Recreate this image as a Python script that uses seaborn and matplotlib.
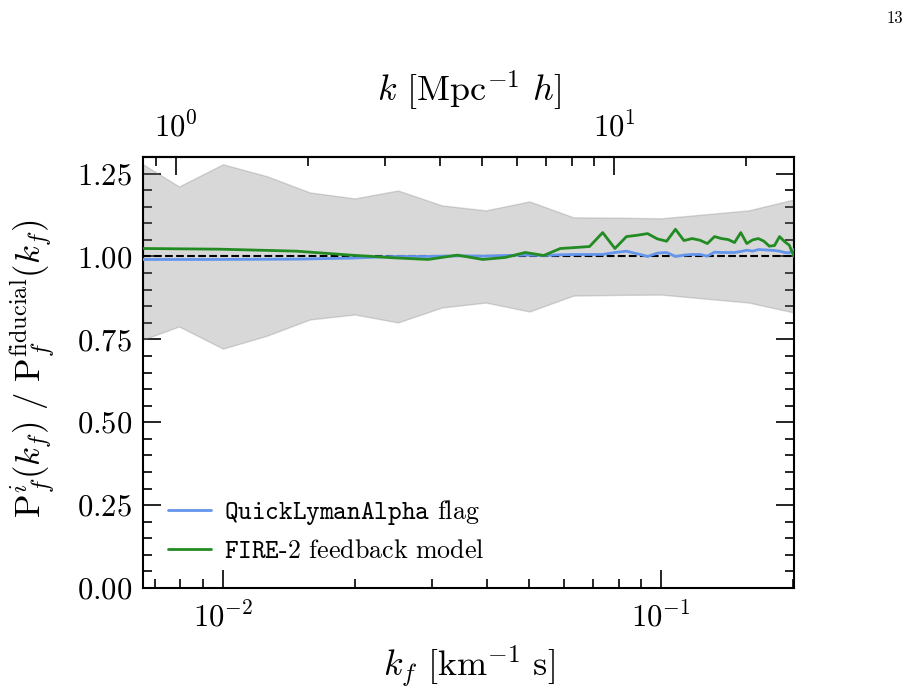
import numpy as np
import pandas as pd
import matplotlib
matplotlib.use("Agg")
import matplotlib.pyplot as plt
import matplotlib.ticker as mticker
import seaborn as sns

# ---------------- data ----------------
kf = [0.00657, 0.0098, 0.0147, 0.0196, 0.0245, 0.0294, 0.0343, 0.0392, 0.0441, 0.0490,
      0.0540, 0.0589, 0.0638, 0.0687, 0.0736, 0.0785, 0.0834, 0.0883, 0.0932, 0.0981,
      0.1030, 0.1079, 0.1128, 0.1178, 0.1227, 0.1276, 0.1325, 0.1374, 0.1423, 0.1472,
      0.1521, 0.1570, 0.1619, 0.1668, 0.1718, 0.1767, 0.1816, 0.1865, 0.1914, 0.1963,
      0.2012]

ratio_qla = [0.991, 0.991, 0.992, 0.995, 1.000, 1.000, 1.002, 1.001, 1.003, 1.004,
             1.003, 1.005, 1.006, 1.006, 1.006, 1.012, 1.016, 1.008, 1.000, 1.010,
             1.012, 1.000, 1.004, 1.006, 1.006, 1.001, 1.013, 1.012, 1.012, 1.012,
             1.015, 1.019, 1.016, 1.021, 1.020, 1.019, 1.018, 1.016, 1.012, 1.011,
             1.021]

ratio_fire = [1.024, 1.022, 1.016, 1.004, 0.996, 0.991, 1.004, 0.991, 0.997, 1.012,
              1.003, 1.024, 1.027, 1.030, 1.072, 1.024, 1.060, 1.064, 1.069, 1.053,
              1.046, 1.082, 1.048, 1.054, 1.049, 1.039, 1.060, 1.054, 1.051, 1.042,
              1.072, 1.039, 1.050, 1.054, 1.046, 1.031, 1.033, 1.060, 1.045, 1.034,
              1.000]

band_kf = [0.00657, 0.00794, 0.0100, 0.0126, 0.0158, 0.0200, 0.0251, 0.0316, 0.0398,
           0.0501, 0.0631, 0.0794, 0.1000, 0.1259, 0.1585, 0.2012]
band_hi = [1.278, 1.211, 1.278, 1.242, 1.193, 1.175, 1.199, 1.154, 1.139,
           1.166, 1.118, 1.117, 1.115, 1.127, 1.139, 1.172]
band_lo = [0.749, 0.789, 0.722, 0.761, 0.810, 0.825, 0.801, 0.846, 0.861,
           0.834, 0.882, 0.884, 0.885, 0.873, 0.861, 0.831]

yticks = [0.00, 0.25, 0.50, 0.75, 1.00, 1.25]
top_major_ticks = [1, 10]
kf_to_k = 128.0  # km^-1 s -> Mpc^-1 h

labels = [r"$\mathtt{QuickLymanAlpha}$ flag", r"$\mathtt{FIRE}$-$\mathtt{2}$ feedback model"]
colors = ["#6495ED", "#228B22"]

# ---------------- style ----------------
sns.set_theme(style="ticks")
plt.rcParams.update({
    "font.family": "serif",
    "font.serif": ["cmr10", "DejaVu Serif"],
    "mathtext.fontset": "cm",
    "axes.formatter.use_mathtext": True,
    "axes.unicode_minus": True,
    "axes.linewidth": 1.5,
    "axes.edgecolor": "black",
    "axes.labelcolor": "black",
    "text.color": "black",
    "xtick.color": "black",
    "ytick.color": "black",
})

df = pd.DataFrame({"kf": kf * 2,
                   "ratio": ratio_qla + ratio_fire,
                   "model": [labels[0]] * len(kf) + [labels[1]] * len(kf)})

fig = plt.figure(figsize=(9.14, 6.98), dpi=100)
ax = fig.add_axes([143 / 914, 1 - 588 / 698, 651 / 914, 431 / 698])

ax.fill_between(band_kf, band_lo, band_hi, color="grey", alpha=0.3, lw=1.0, zorder=1)
ax.axhline(1.0, color="black", ls="--", lw=1.5, zorder=2)

sns.lineplot(data=df, x="kf", y="ratio", hue="model", palette=colors,
             lw=2.0, ax=ax, zorder=3, sort=True, estimator=None)

ax.set_xscale("log")
ax.set_xlim(kf[0], kf[-1])
ax.set_ylim(0, 1.3)
ax.set_yticks(yticks)
ax.yaxis.set_minor_locator(mticker.MultipleLocator(0.05))
ax.xaxis.set_minor_formatter(mticker.NullFormatter())

ax.tick_params(which="both", direction="in", top=False, right=True, left=True,
               bottom=True, labelsize=22, width=1.2, color="black", labelcolor="black")
ax.tick_params(which="major", length=13)
ax.tick_params(which="minor", length=6.5)
ax.tick_params(axis="y", pad=8)
ax.tick_params(axis="x", pad=10)

ax.set_xlabel(r"$k_f\ [\mathrm{km}^{-1}\ \mathrm{s}]$", fontsize=26)
ax.set_ylabel(r"$\mathrm{P}^{i}_{f}(k_f)\ /\ \mathrm{P}^{\mathrm{fiducial}}_{f}(k_f)$", fontsize=25)
ax.xaxis.set_label_coords(0.5, -0.13)
ax.yaxis.set_label_coords(-0.132, 0.51)

ax2 = ax.secondary_xaxis("top", functions=(lambda x: x * kf_to_k, lambda x: x / kf_to_k))
ax2.xaxis.set_major_locator(mticker.FixedLocator(top_major_ticks))
ax2.xaxis.set_minor_locator(mticker.LogLocator(base=10, subs=np.arange(2, 10)))
ax2.xaxis.set_minor_formatter(mticker.NullFormatter())
ax2.tick_params(which="both", direction="in", labelsize=22, width=1.2, pad=10,
                color="black", labelcolor="black")
ax2.tick_params(which="major", length=13)
ax2.tick_params(which="minor", length=6.5)
ax2.set_xlabel(r"$k\ [\mathrm{Mpc}^{-1}\ h]$", fontsize=26, labelpad=7)

leg = ax.legend(loc="lower left", frameon=False, fontsize=18.7, handlelength=1.65,
                handletextpad=0.5, labelspacing=0.5, borderaxespad=0.3,
                bbox_to_anchor=(0.01, 0.015))
for line in leg.get_lines():
    line.set_linewidth(2.0)

fig.text(0.988, 0.985, "13", fontsize=12, ha="right", va="top")

fig.savefig("out.png", dpi=100)
